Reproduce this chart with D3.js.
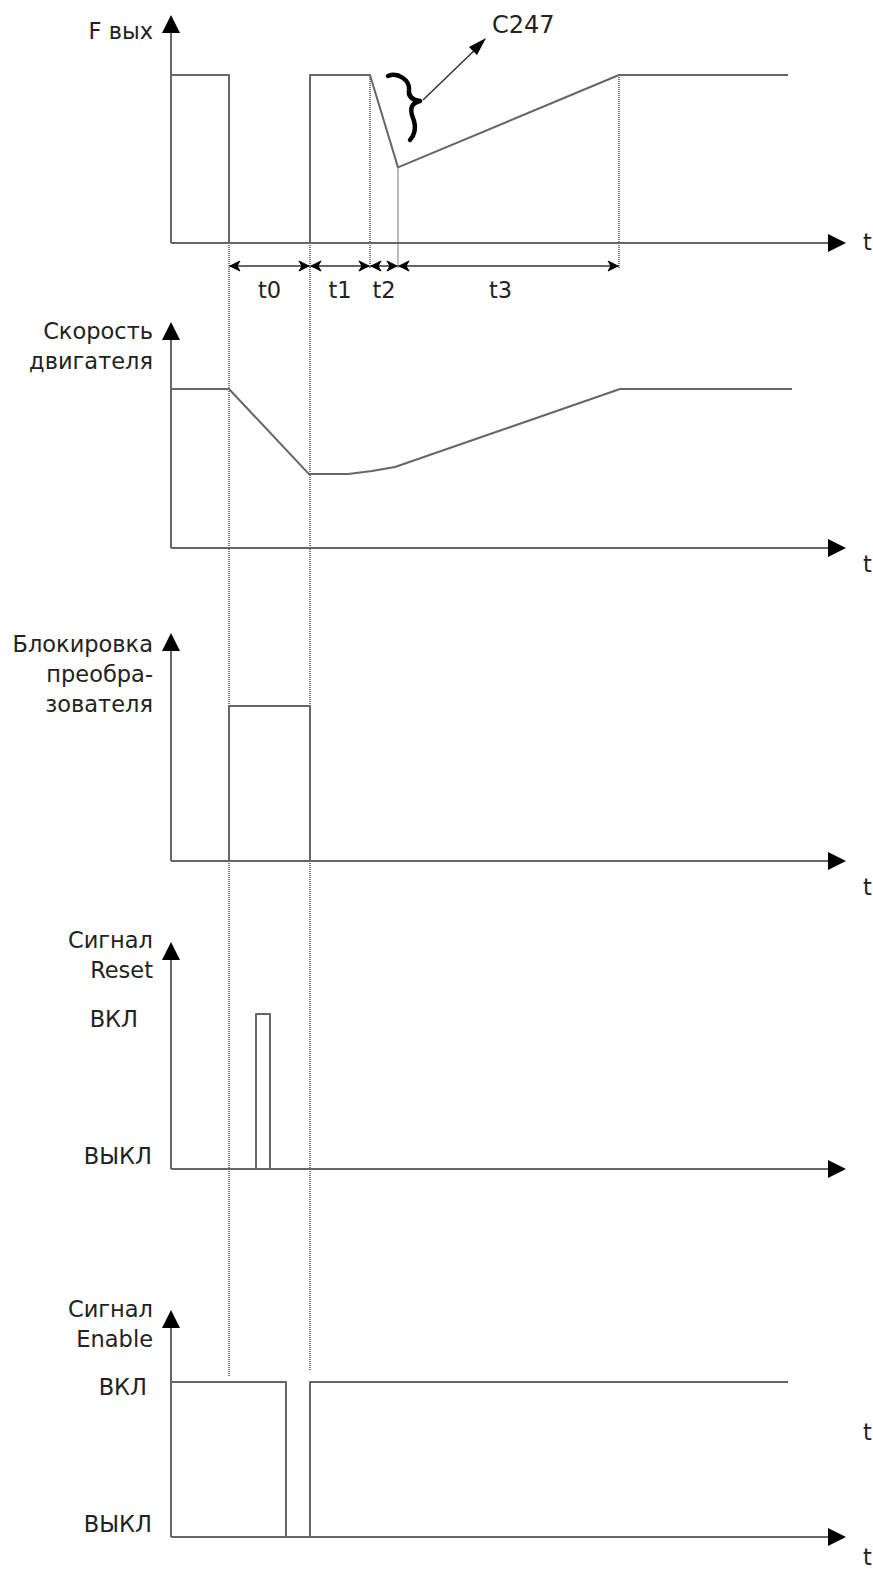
<!DOCTYPE html>
<html>
<head>
<meta charset="utf-8">
<script src="https://cdn.jsdelivr.net/npm/d3@7"></script>
<style>
  body { margin: 0; background: #fff; }
  svg text { font-family: "DejaVu Sans", "Liberation Sans", sans-serif; font-size: 22.5px; fill: #222; }
</style>
</head>
<body>
<svg id="viz"></svg>
<script>
// time values (same time unit for all five traces)
let foutTimes = [0, 58, 58, 139, 139, 199, 227, 448, 617];
let foutValues = [1, 1, 0, 0, 1, 1, 0.45, 1, 1];
let speedTimes = [0, 58, 138, 177, 201, 224, 449, 621];
let speedValues = [1, 1, 0.465, 0.465, 0.484, 0.509, 1, 1];
let blockTimes = [58, 58, 139, 139];
let blockValues = [0, 1, 1, 0];
let resetTimes = [85, 85, 99, 99];
let resetValues = [0, 1, 1, 0];
let enableTimes = [0, 115, 115, 139, 139, 617];
let enableValues = [1, 1, 0, 0, 1, 1];

let intervalNames = ["t0", "t1", "t2", "t3"];
let intervalEdges = [58, 139, 199, 227, 448];

let panelTitles = [["F вых"], ["Скорость", "двигателя"], ["Блокировка", "преобра-", "зователя"], ["Сигнал", "Reset"], ["Сигнал", "Enable"]];
let stateLabels = ["ВКЛ", "ВЫКЛ"];
let annotation = "C247";

let width = 873;
let height = 1571;

let svg = d3.select("#viz")
    .attr("width", width)
    .attr("height", height);

let x = d3.scaleLinear().domain([0, 675]).range([171, 846]);

// panel layout: baseline, "1" level, axis tip, title baseline, t-label baseline
let layout = [
    {base: 243, level: 75, tip: 15, titleY: 39, tY: [250]},
    {base: 548, level: 389, tip: 322, titleY: 339, tY: [572]},
    {base: 861, level: 706, tip: 633, titleY: 652, tY: [895]},
    {base: 1169, level: 1014, tip: 942, titleY: 948, tY: []},
    {base: 1537, level: 1382, tip: 1310, titleY: 1317, tY: [1440, 1565]}
];

let traces = [
    {t: foutTimes, v: foutValues},
    {t: speedTimes, v: speedValues},
    {t: blockTimes, v: blockValues},
    {t: resetTimes, v: resetValues},
    {t: enableTimes, v: enableValues}
];

let lineColor = "#666";
let ys = layout.map(p => d3.scaleLinear().domain([0, 1]).range([p.base, p.level]));

// dotted guide lines
let guides = svg.append("g")
    .attr("stroke", "#222")
    .attr("stroke-width", 1.2)
    .attr("stroke-dasharray", "1,1");
guides.append("line")
    .attr("x1", x(intervalEdges[0])).attr("x2", x(intervalEdges[0]))
    .attr("y1", ys[0](0)).attr("y2", 1377);
guides.append("line")
    .attr("x1", x(intervalEdges[1])).attr("x2", x(intervalEdges[1]))
    .attr("y1", ys[0](0)).attr("y2", 1370);
[2, 3, 4].forEach(function(i) {
    let tt = intervalEdges[i];
    // find the F out value at this time
    let k = foutTimes.indexOf(tt);
    guides.append("line")
        .attr("x1", x(tt)).attr("x2", x(tt))
        .attr("y1", ys[0](foutValues[k])).attr("y2", 268);
});

layout.forEach(function(p, i) {
    let g = svg.append("g");
    let y = ys[i];

    // axes
    g.append("line")
        .attr("x1", x(0)).attr("x2", x(0))
        .attr("y1", p.base).attr("y2", p.tip + 12)
        .attr("stroke", lineColor).attr("stroke-width", 2);
    g.append("path")
        .attr("d", `M${x(0)},${p.tip} L${x(0) - 9},${p.tip + 18} L${x(0) + 9},${p.tip + 18} Z`)
        .attr("fill", "#000");
    g.append("line")
        .attr("x1", x(0)).attr("x2", x(675) - 12)
        .attr("y1", p.base).attr("y2", p.base)
        .attr("stroke", lineColor).attr("stroke-width", 2);
    g.append("path")
        .attr("d", `M${x(675)},${p.base} L${x(675) - 18},${p.base - 9} L${x(675) - 18},${p.base + 9} Z`)
        .attr("fill", "#000");

    p.tY.forEach(function(ty) {
        g.append("text").attr("x", 863).attr("y", ty).text("t");
    });

    // title
    panelTitles[i].forEach(function(s, j) {
        g.append("text")
            .attr("x", 153)
            .attr("y", p.titleY + j * 30)
            .attr("text-anchor", "end")
            .text(s);
    });

    // signal trace
    let tr = traces[i];
    let pts = tr.t.map((d, j) => [d, tr.v[j]]);
    g.append("path")
        .datum(pts)
        .attr("fill", "none")
        .attr("stroke", lineColor)
        .attr("stroke-width", 2)
        .attr("stroke-linejoin", "round")
        .attr("d", d3.line().x(d => x(d[0])).y(d => y(d[1])));
});

// on/off labels for reset and enable
let onEnds = [138, 147];
[3, 4].forEach(function(i, k) {
    let p = layout[i];
    svg.append("text").attr("x", onEnds[k]).attr("y", p.level + 13).attr("text-anchor", "end").text(stateLabels[0]);
    svg.append("text").attr("x", 152).attr("y", p.base - 5).attr("text-anchor", "end").text(stateLabels[1]);
});

// interval arrows t0..t3
let arrowY = 266;
let ia = svg.append("g");
ia.append("line")
    .attr("x1", x(intervalEdges[0])).attr("x2", x(intervalEdges[4]))
    .attr("y1", arrowY).attr("y2", arrowY)
    .attr("stroke", lineColor).attr("stroke-width", 2);
intervalNames.forEach(function(name, i) {
    let a = x(intervalEdges[i]), b = x(intervalEdges[i + 1]);
    ia.append("path")
        .attr("d", `M${a + 1},${arrowY} L${a + 11},${arrowY - 5} L${a + 8},${arrowY} L${a + 11},${arrowY + 5} Z`)
        .attr("fill", "#000").attr("stroke", "#000").attr("stroke-width", 1);
    ia.append("path")
        .attr("d", `M${b - 1},${arrowY} L${b - 11},${arrowY - 5} L${b - 8},${arrowY} L${b - 11},${arrowY + 5} Z`)
        .attr("fill", "#000").attr("stroke", "#000").attr("stroke-width", 1);
    ia.append("text")
        .attr("x", (a + b) / 2 + (i == 3 ? -8 : 0))
        .attr("y", 298)
        .attr("text-anchor", "middle")
        .text(name);
});

// C247 annotation: brace on the ramp and arrow to the label
svg.append("path")
    .attr("d", "M388,76 C398,72 410,80 409,90 C408,97 413,100 420,101 C412,103 409,108 413,118 C417,128 414,136 410,140")
    .attr("fill", "none")
    .attr("stroke", "#000")
    .attr("stroke-width", 4.5)
    .attr("stroke-linecap", "round")
    .attr("stroke-linejoin", "round");
svg.append("line")
    .attr("x1", 423).attr("y1", 100).attr("x2", 480).attr("y2", 45)
    .attr("stroke", "#333").attr("stroke-width", 1.5);
svg.append("path")
    .attr("d", "M486,38 L469,47 L477,55 Z")
    .attr("fill", "#000");
svg.append("text")
    .attr("x", 492)
    .attr("y", 33)
    .style("font-size", "24px")
    .text(annotation);
</script>
</body>
</html>
